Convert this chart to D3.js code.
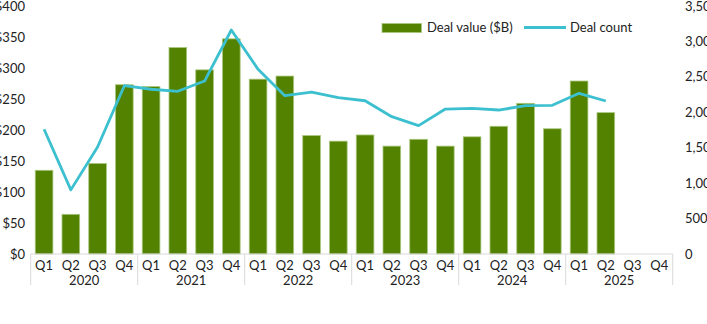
<!DOCTYPE html>
<html>
<head>
<meta charset="utf-8">
<script src="https://cdn.jsdelivr.net/npm/d3@7"></script>
<style>
  body { margin: 0; background: #fff; }
  text { font-family: Lato, "Open Sans", sans-serif; fill: #222; }
</style>
</head>
<body>
<svg id="chart" width="707" height="324"></svg>
<script>
// quarterly deal value ($B) and deal count, 2020 - 2025
const years = ["2020", "2021", "2022", "2023", "2024", "2025"];
const quarters = ["Q1", "Q2", "Q3", "Q4"];
const dealValue = [135, 64, 146, 273, 270, 333, 297, 347, 282, 287, 191, 182,
                   192, 174, 185, 174, 189, 206, 243, 202, 279, 228];
const dealCount = [1760, 905, 1510, 2375, 2325, 2296, 2441, 3161, 2606, 2234, 2286, 2206,
                   2163, 1938, 1811, 2046, 2056, 2032, 2093, 2098, 2268, 2159];
const leftTicks = [0, 50, 100, 150, 200, 250, 300, 350, 400];
const rightTicks = [0, 500, 1000, 1500, 2000, 2500, 3000, 3500];

const cats = [];
years.forEach(y => quarters.forEach(q => cats.push(y + " " + q)));

const svg = d3.select("#chart");
const plotLeft = 30.7, plotRight = 672.7, plotTop = 6, plotBottom = 254;

const x = d3.scaleBand()
  .domain(cats)
  .range([plotLeft, plotRight])
  .paddingInner(0.34)
  .paddingOuter(0.17);

const yL = d3.scaleLinear().domain([0, 400]).range([plotBottom, plotTop]);
const yR = d3.scaleLinear().domain([0, 3500]).range([plotBottom, plotTop]);

// bars
svg.append("g")
  .selectAll("rect")
  .data(dealValue)
  .join("rect")
  .attr("x", (d, i) => x(cats[i]))
  .attr("y", d => yL(d))
  .attr("width", x.bandwidth())
  .attr("height", d => yL(0) - yL(d))
  .attr("fill", "#538200")
  .attr("stroke", "#a9c77e")
  .attr("stroke-width", 0.8);

// deal count line
const line = d3.line()
  .x((d, i) => x(cats[i]) + x.bandwidth() / 2)
  .y(d => yR(d));

svg.append("path")
  .datum(dealCount)
  .attr("d", line)
  .attr("fill", "none")
  .attr("stroke", "#3cc0cf")
  .attr("stroke-width", 2.8)
  .attr("stroke-linejoin", "round");

// left axis labels
svg.append("g")
  .selectAll("text")
  .data(leftTicks)
  .join("text")
  .attr("x", 25)
  .attr("y", d => yL(d))
  .attr("dy", "0.35em")
  .attr("text-anchor", "end")
  .attr("font-size", 13)
  .text(d => "$" + d);

// right axis labels
svg.append("g")
  .selectAll("text")
  .data(rightTicks)
  .join("text")
  .attr("x", 685)
  .attr("y", d => yR(d))
  .attr("dy", "0.35em")
  .attr("text-anchor", "start")
  .attr("font-size", 13)
  .text(d => d3.format(",")(d));

// category axis: baseline, year separators, quarter and year labels
const axis = svg.append("g");
axis.append("line")
  .attr("x1", plotLeft).attr("x2", plotRight)
  .attr("y1", plotBottom).attr("y2", plotBottom)
  .attr("stroke", "#d9d9d9").attr("stroke-width", 1);

const step = x.step();
axis.selectAll("line.sep")
  .data(d3.range(years.length + 1))
  .join("line")
  .attr("class", "sep")
  .attr("x1", i => plotLeft + i * 4 * step)
  .attr("x2", i => plotLeft + i * 4 * step)
  .attr("y1", plotBottom)
  .attr("y2", 285)
  .attr("stroke", "#d9d9d9")
  .attr("stroke-width", 1);

axis.selectAll("text.q")
  .data(cats)
  .join("text")
  .attr("class", "q")
  .attr("x", d => x(d) + x.bandwidth() / 2)
  .attr("y", 265)
  .attr("dy", "0.35em")
  .attr("text-anchor", "middle")
  .attr("font-size", 13)
  .text(d => d.split(" ")[1]);

axis.selectAll("text.yr")
  .data(years)
  .join("text")
  .attr("class", "yr")
  .attr("x", (d, i) => plotLeft + (i * 4 + 2) * step)
  .attr("y", 280)
  .attr("dy", "0.35em")
  .attr("text-anchor", "middle")
  .attr("font-size", 13)
  .text(d => d);

// legend
const legend = svg.append("g");
legend.append("rect")
  .attr("x", 382).attr("y", 23.5)
  .attr("width", 39.5).attr("height", 9)
  .attr("fill", "#538200")
  .attr("stroke", "#a9c77e").attr("stroke-width", 0.8);
legend.append("text")
  .attr("x", 427).attr("y", 27.5).attr("dy", "0.35em")
  .attr("font-size", 13)
  .text("Deal value ($B)");
legend.append("line")
  .attr("x1", 524).attr("x2", 566)
  .attr("y1", 27.5).attr("y2", 27.5)
  .attr("stroke", "#3cc0cf").attr("stroke-width", 2.8);
legend.append("text")
  .attr("x", 570).attr("y", 27.5).attr("dy", "0.35em")
  .attr("font-size", 13)
  .text("Deal count");
</script>
</body>
</html>
